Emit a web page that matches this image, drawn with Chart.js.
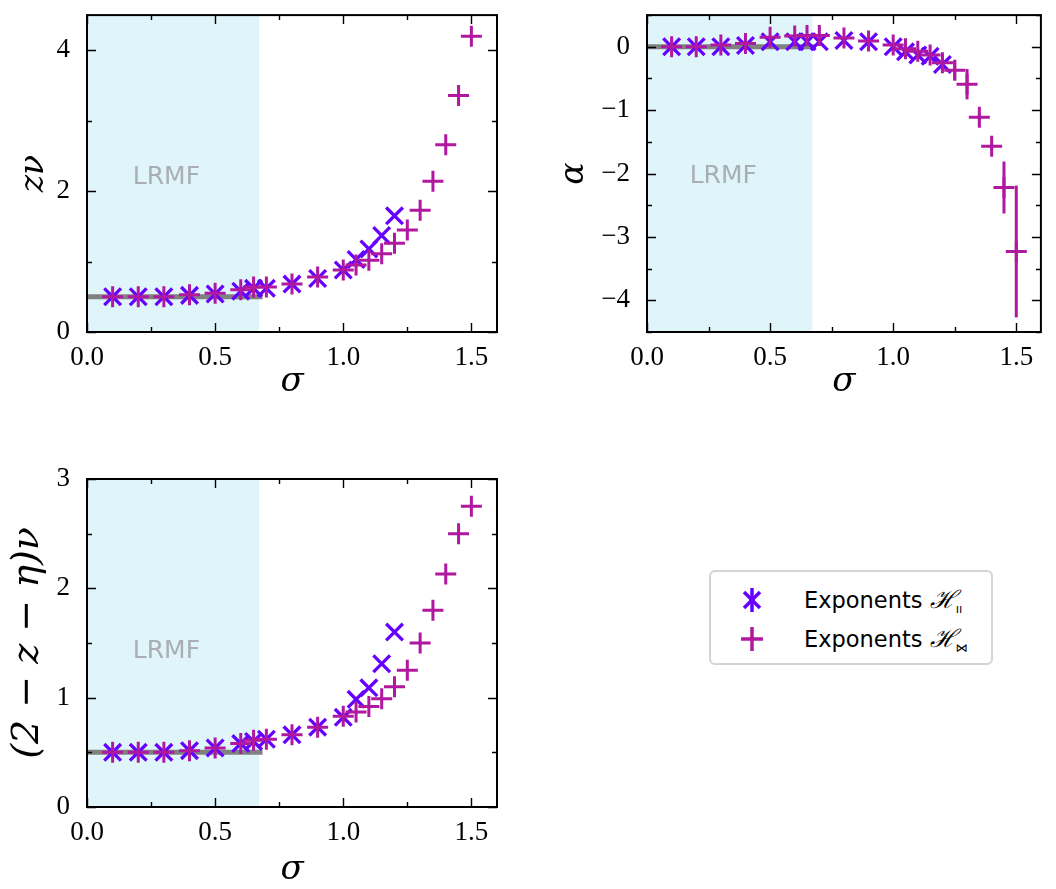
<!DOCTYPE html>
<html>
<head>
<meta charset="utf-8">
<script src="https://cdn.jsdelivr.net/npm/chart.js@4.4.1/dist/chart.umd.min.js"></script>
<style>
  body { margin: 0; background: #fff; width: 1056px; height: 889px; position: relative; overflow: hidden; }
  canvas { position: absolute; }
  #legend {
    position: absolute; left: 709px; top: 570px; width: 280px; height: 91px;
    border: 2px solid #d4d4d4; border-radius: 6px; background: #fff;
  }
  #legend .row { position: absolute; left: 0; height: 30px; width: 280px; }
  #legend svg { position: absolute; left: 27px; top: 0; }
  #legend .txt {
    position: absolute; left: 93px; top: 0; line-height: 30px;
    font-family: "DejaVu Sans", sans-serif; font-size: 22.5px; color: #000; white-space: nowrap;
  }
  #legend .H { font-family: "DejaVu Serif", serif; font-style: italic; font-size: 25px; }
  #legend sub { font-size: 12px; vertical-align: -5px; }
</style>
</head>
<body>
<canvas id="c1" width="520" height="410" style="left:0;top:0"></canvas>
<canvas id="c2" width="516" height="410" style="left:540px;top:0"></canvas>
<canvas id="c3" width="520" height="449" style="left:0;top:440px"></canvas>

<div id="legend">
  <div class="row" style="top:13px">
    <svg width="28" height="30" viewBox="-14 -15 28 30">
      <g stroke="#6600ff" stroke-width="3.5">
        <line x1="-8" y1="-8" x2="8" y2="8"/><line x1="-8" y1="8" x2="8" y2="-8"/><line x1="0" y1="-12" x2="0" y2="12"/>
      </g>
    </svg>
    <span class="txt">Exponents <span class="H">ℋ</span><sub>ıı</sub></span>
  </div>
  <div class="row" style="top:52px">
    <svg width="28" height="30" viewBox="-14 -15 28 30">
      <g stroke="#b0189f" stroke-width="3.5">
        <line x1="-11" y1="0" x2="11" y2="0"/><line x1="0" y1="-12" x2="0" y2="12"/>
      </g>
    </svg>
    <span class="txt">Exponents <span class="H">ℋ</span><sub>⋈</sub></span>
  </div>
</div>

<script>
// sigma values of the two Hamiltonians
const sigmaPar = [0.1, 0.2, 0.3, 0.4, 0.5, 0.6, 0.65, 0.7, 0.8, 0.9, 1.0, 1.05, 1.1, 1.15, 1.2];
const sigmaBow = [0.1, 0.2, 0.3, 0.4, 0.5, 0.6, 0.65, 0.7, 0.8, 0.9, 1.0, 1.05, 1.1, 1.15, 1.2,
                  1.25, 1.3, 1.35, 1.4, 1.45, 1.5];

// z*nu
const zNuPar = [0.50, 0.50, 0.50, 0.52, 0.54, 0.58, 0.62, 0.62, 0.68, 0.76, 0.88, 1.03, 1.18, 1.37, 1.65];
const zNuBow = [0.50, 0.50, 0.50, 0.53, 0.55, 0.60, 0.64, 0.64, 0.68, 0.78, 0.88, 0.95, 1.02, 1.11, 1.26,
                1.45, 1.73, 2.14, 2.66, 3.36, 4.20];

// alpha
const alphaPar = [0.0, 0.0, 0.0, 0.02, 0.08, 0.08, 0.08, 0.08, 0.10, 0.08, 0.0, -0.08, -0.13, -0.15, -0.28];
const alphaBow = [0.0, 0.0, 0.03, 0.05, 0.15, 0.17, 0.18, 0.18, 0.14, 0.09, 0.03, -0.03, -0.07, -0.13, -0.25,
                  -0.37, -0.59, -1.11, -1.57, -2.22, -3.23];
const alphaBowErr = [0, 0, 0, 0, 0, 0, 0, 0, 0, 0, 0, 0, 0, 0, 0.12,
                     0.15, 0.24, 0.05, 0.05, 0.41, 1.04];

// (2 - z - eta) nu
const gamPar = [0.50, 0.50, 0.50, 0.515, 0.54, 0.58, 0.60, 0.62, 0.66, 0.73, 0.82, 0.985, 1.09, 1.31, 1.60];
const gamBow = [0.50, 0.50, 0.50, 0.515, 0.54, 0.58, 0.61, 0.62, 0.66, 0.73, 0.83, 0.87, 0.92, 0.99, 1.10,
                1.25, 1.50, 1.80, 2.13, 2.50, 2.75];

// mean-field values and ticks
const lrmfEdge = 0.672;
const mfZNu = 0.5, mfAlpha = 0, mfGam = 0.5;
const sigmaTicks = [0, 0.5, 1.0, 1.5];
const zNuTicks = [0, 2, 4];
const alphaTicks = [0, -1, -2, -3, -4];
const gamTicks = [0, 1, 2, 3];

const BLUE = '#6600ff';
const MAGENTA = '#b0189f';
const SERIF = "'Liberation Serif', serif";
const MATH = "'DejaVu Serif', serif";

function pts(xs, ys) { return xs.map((x, i) => ({ x: x, y: ys[i] })); }

function fmt(v) { return v < 0 ? '\u2212' + Math.abs(v) : String(v); }

const panelPlugin = {
  id: 'panel',
  beforeDatasetsDraw(chart, args, o) {
    const { ctx, chartArea: a, scales: { x, y } } = chart;
    ctx.save();
    const x0 = x.getPixelForValue(0), x1 = x.getPixelForValue(o.band);
    ctx.fillStyle = '#e0f5fa';
    ctx.fillRect(x0, a.top, x1 - x0, a.bottom - a.top);
    ctx.fillStyle = '#a9aeb5';
    ctx.font = "25px 'DejaVu Sans', sans-serif";
    ctx.textAlign = 'center';
    ctx.textBaseline = 'middle';
    ctx.fillText('LRMF', x.getPixelForValue(o.label[0]), y.getPixelForValue(o.label[1]));
    ctx.restore();
  },
  afterDatasetsDraw(chart) {
    const { ctx, scales: { y } } = chart;
    chart.data.datasets.forEach((ds, i) => {
      if (!ds.errors) return;
      const meta = chart.getDatasetMeta(i);
      ctx.save();
      ctx.strokeStyle = ds.borderColor;
      ctx.lineWidth = 3;
      ds.data.forEach((p, j) => {
        const e = ds.errors[j];
        if (!e) return;
        const px = meta.data[j].x;
        ctx.beginPath();
        ctx.moveTo(px, y.getPixelForValue(p.y + e));
        ctx.lineTo(px, y.getPixelForValue(p.y - e));
        ctx.stroke();
      });
      ctx.restore();
    });
  },
  afterDraw(chart, args, o) {
    const { ctx, chartArea: a, scales } = chart;
    ctx.save();
    ctx.strokeStyle = '#000';
    ctx.lineWidth = 1.4;
    const tick = (scale, v, len) => {
      ctx.beginPath();
      if (scale.isHorizontal()) {
        const px = Math.round(scale.getPixelForValue(v)) + 0.5;
        ctx.moveTo(px, a.bottom); ctx.lineTo(px, a.bottom - len);
        ctx.moveTo(px, a.top); ctx.lineTo(px, a.top + len);
      } else {
        const py = Math.round(scale.getPixelForValue(v)) + 0.5;
        ctx.moveTo(a.left, py); ctx.lineTo(a.left + len, py);
        ctx.moveTo(a.right, py); ctx.lineTo(a.right - len, py);
      }
      ctx.stroke();
    };
    [['x', o.xMinor], ['y', o.yMinor]].forEach(([id, step]) => {
      const s = scales[id];
      const majors = s.ticks.map(t => t.value);
      majors.forEach(v => tick(s, v, 9));
      const k0 = Math.ceil(s.min / step - 1e-9), k1 = Math.floor(s.max / step + 1e-9);
      for (let k = k0; k <= k1; k++) {
        const v = Math.round(k * step * 1e6) / 1e6;
        if (majors.some(m => Math.abs(m - v) < 1e-6)) continue;
        tick(s, v, 5);
      }
    });
    ctx.lineWidth = 2;
    ctx.strokeRect(a.left, a.top, a.right - a.left, a.bottom - a.top);
    ctx.restore();
  }
};

function makePanel(id, c) {
  new Chart(document.getElementById(id), {
    type: 'scatter',
    data: {
      datasets: [
        {
          label: 'bowtie', data: pts(sigmaBow, c.bow), errors: c.bowErr || null, order: 1,
          pointStyle: 'cross', pointRadius: 10.5, pointBorderWidth: 3,
          borderColor: MAGENTA, backgroundColor: MAGENTA
        },
        {
          label: 'parallel', data: pts(sigmaPar, c.par), order: 2,
          pointStyle: 'crossRot', pointRadius: 11.8, pointBorderWidth: 3.3,
          borderColor: BLUE, backgroundColor: BLUE
        },
        {
          label: 'mf', data: [{ x: 0, y: c.mf }, { x: 0.685, y: c.mf }], order: 3,
          showLine: true, pointRadius: 0, borderWidth: 5, borderColor: '#808080',
          borderCapStyle: 'butt'
        }
      ]
    },
    options: {
      responsive: false,
      animation: false,
      events: [],
      layout: { padding: { top: c.padTop, right: c.padRight, left: 0, bottom: 0 } },
      plugins: {
        legend: { display: false },
        tooltip: { enabled: false },
        panel: { band: lrmfEdge, label: c.lrmf, xMinor: 0.25, yMinor: c.yMinor }
      },
      scales: {
        x: {
          type: 'linear', min: 0, max: 1.6,
          afterBuildTicks: s => { s.ticks = sigmaTicks.map(v => ({ value: v })); },
          afterFit: s => { s.height = c.xHeight; s.paddingLeft = 0; s.paddingRight = 0; },
          grid: { display: false }, border: { display: false },
          ticks: {
            color: '#000', font: { family: SERIF, size: 27 }, padding: 2, maxRotation: 0,
            callback: v => v.toFixed(1)
          },
          title: {
            display: true, text: 'σ', color: '#000',
            font: { family: MATH, size: 34, style: 'italic', lineHeight: 1 },
            padding: { top: 0, bottom: c.xTitlePad }
          }
        },
        y: {
          type: 'linear', min: c.yMin, max: c.yMax,
          afterBuildTicks: s => { s.ticks = c.yTicks.map(v => ({ value: v })); },
          afterFit: s => { s.width = c.yWidth; s.paddingTop = 0; s.paddingBottom = 0; },
          grid: { display: false }, border: { display: false },
          ticks: {
            color: '#000', font: { family: SERIF, size: 27 }, padding: 9,
            callback: v => fmt(v)
          },
          title: {
            display: true, text: c.title, color: '#000',
            font: { family: MATH, size: c.titleSize || 33, style: 'italic', lineHeight: 1 },
            padding: { top: c.yTitlePad, bottom: 0 }
          }
        }
      }
    },
    plugins: [panelPlugin]
  });
}

makePanel('c1', {
  par: zNuPar, bow: zNuBow, mf: mfZNu, yMin: 0, yMax: 4.5, yTicks: zNuTicks, yMinor: 1,
  title: 'zν', yWidth: 87, yTitlePad: 18, padTop: 5, padRight: 23, xHeight: 78, xTitlePad: 11,
  lrmf: [0.31, 2.2]
});
makePanel('c2', {
  par: alphaPar, bow: alphaBow, bowErr: alphaBowErr, mf: mfAlpha, yMin: -4.5, yMax: 0.5,
  yTicks: alphaTicks, yMinor: 0.5,
  title: 'α', yWidth: 107, yTitlePad: 18, padTop: 5, padRight: 1, xHeight: 78, xTitlePad: 11,
  lrmf: [0.31, -2.05]
});
makePanel('c3', {
  par: gamPar, bow: gamBow, mf: mfGam, yMin: 0, yMax: 3, yTicks: gamTicks, yMinor: 0.5,
  title: '(2 − z − η)ν', titleSize: 38, yWidth: 87, yTitlePad: 9, padTop: 39, padRight: 23,
  xHeight: 82, xTitlePad: 2, lrmf: [0.31, 1.42]
});
</script>
</body>
</html>
